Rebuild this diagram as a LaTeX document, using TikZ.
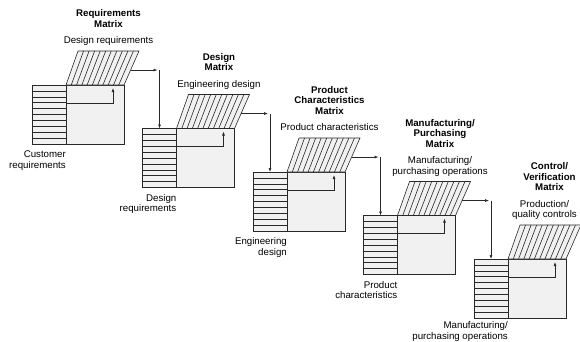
\documentclass[tikz,border=0pt]{standalone}
\usepackage{fontspec}
\setmainfont{Liberation Sans}
\usetikzlibrary{arrows.meta,positioning,calc}
\definecolor{boxfill}{RGB}{241,241,241}
\definecolor{lineink}{RGB}{40,40,40}

\begin{document}
\begin{tikzpicture}[
  x=1pt, y=-1pt,
  every node/.style={font=\fontsize{9.7}{10.6}\selectfont},
  rowbox/.style={draw=lineink, fill=boxfill, line width=0.7pt, minimum width=34pt, minimum height=59pt, inner sep=0pt, outer sep=0pt, anchor=north west},
  mainbox/.style={draw=lineink, fill=boxfill, line width=0.7pt, minimum width=58pt, minimum height=59pt, inner sep=0pt, outer sep=0pt},
  ink/.style={draw=lineink, line width=0.6pt},
  arr/.style={ink, -{Latex[length=4pt,width=3pt]}},
  headline/.style={font=\fontsize{9.7}{10.6}\selectfont\bfseries, align=center, inner sep=0pt, text depth=0pt},
  subline/.style={align=center, inner sep=0pt, text depth=0pt},
  lowline/.style={align=right, inner sep=0pt}
]
\useasboundingbox (0,0) rectangle (580,341);

\foreach \k in {1,...,5}{
  \node[rowbox] (rows\k) at ({32+110.5*(\k-1)}, {85+43.5*(\k-1)}) {};
  \node[mainbox, right=0pt of rows\k] (main\k) {};
  \coordinate (tl\k) at ($(main\k.north west)+(12,-34)$);
  \coordinate (tr\k) at ($(main\k.north east)+(15,-34)$);
  \coordinate (top\k) at ($(tl\k)!0.5!(tr\k)$);
  \filldraw[ink, fill=boxfill] (main\k.north west) -- (tl\k) -- (tr\k) -- (main\k.north east) -- cycle;
  \foreach \i in {1,...,10}
    \draw[ink] ($(main\k.north west)!\i/11!(main\k.north east)$) -- ($(tl\k)!\i/11!(tr\k)$);
  \foreach \i in {1,...,9}
    \draw[ink] ($(rows\k.north west)!\i/10!(rows\k.south west)$) -- ($(rows\k.north east)!\i/10!(rows\k.south east)$);
  \coordinate (in\k) at ($(main\k.north west)+(0,18)$);
  \coordinate (tip\k) at ($(main\k.north west)+(47,3)$);
  \draw[arr] (in\k) -| (tip\k);
  \coordinate (out\k) at ($(tr\k)!0.56!(main\k.north east)$);
}

\foreach \k in {1,...,4}{
  \pgfmathtruncatemacro\n{\k+1}
  \coordinate (bend\k) at (out\k -| rows\n.north);
  \draw[arr, shorten >=2pt] (out\k) -- (bend\k);
  \draw[arr] (bend\k) -- (rows\n.north);
}

\node[subline, above=7pt of top1] (sub1) {Design requirements};
\node[headline, above=9pt of sub1] (head1) {Requirements\\Matrix};
\node[lowline, below left=6.5pt and 0pt of rows1.south east] (low1) {Customer\\requirements};

\node[subline, above=7pt of top2] (sub2) {Engineering design};
\node[headline, above=9pt of sub2] (head2) {Design\\Matrix};
\node[lowline, below left=6.5pt and 0pt of rows2.south east] (low2) {Design\\requirements};

\node[subline, above=7pt of top3] (sub3) {Product characteristics};
\node[headline, above=9pt of sub3] (head3) {Product\\Characteristics\\Matrix};
\node[lowline, below left=6.5pt and 0pt of rows3.south east] (low3) {Engineering\\design};

\node[subline, above=7pt of top4] (sub4) {Manufacturing/\\purchasing operations};
\node[headline, above=9pt of sub4] (head4) {Manufacturing/\\Purchasing\\Matrix};
\node[lowline, below left=6.5pt and 0pt of rows4.south east] (low4) {Product\\characteristics};

\node[subline, above=7pt of top5, xshift=-6pt] (sub5) {Production/\\quality controls};
\node[headline, above=9pt of sub5, xshift=5pt] (head5) {Control/\\Verification\\Matrix};
\node[lowline, below left=3.5pt and 0pt of rows5.south east] (low5) {Manufacturing/\\purchasing operations};
\end{tikzpicture}
\end{document}
